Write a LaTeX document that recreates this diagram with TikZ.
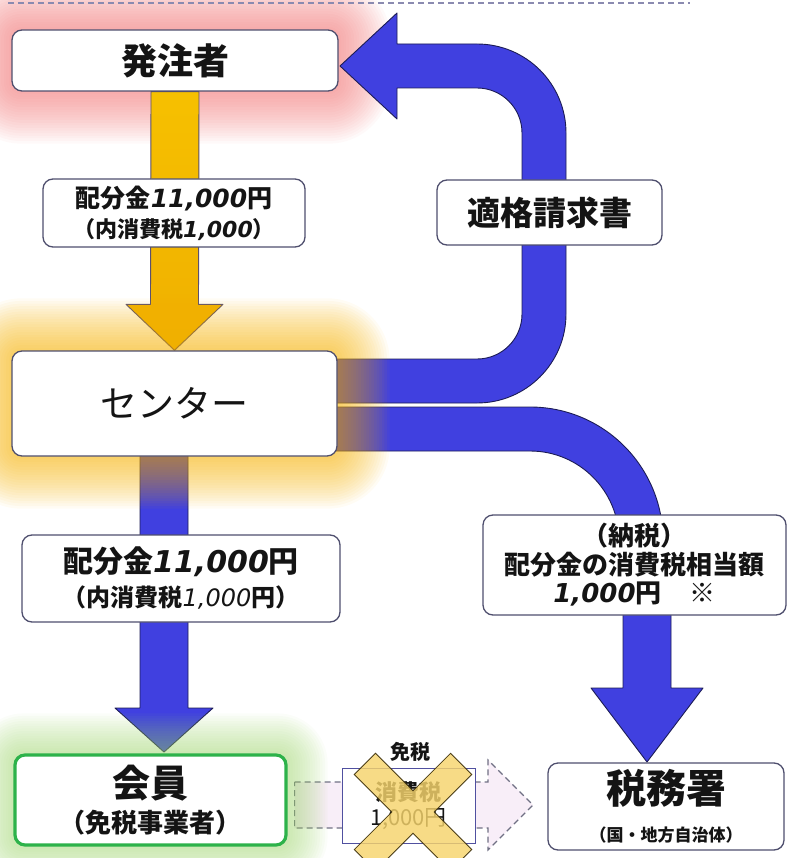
\documentclass[tikz,border=0pt]{standalone}
\usepackage{fontspec}
\setmainfont{Noto Sans CJK JP}
\newfontfamily\jpf{Noto Sans CJK JP}
\newfontfamily\dvs{DejaVu Sans}
\usetikzlibrary{calc}
\newcommand\dgt[1]{{\dvs\itshape #1}}
\definecolor{boxc}{HTML}{4F4F6E}
\definecolor{txt}{HTML}{141414}
\definecolor{arrblue}{HTML}{4040E0}
\definecolor{arredge}{HTML}{1C1C55}
\definecolor{goldA}{HTML}{F6C000}
\definecolor{goldM}{HTML}{A98B4E}
\definecolor{goldB}{HTML}{F0B000}
\definecolor{goldedge}{HTML}{5A5070}
\definecolor{glowred}{HTML}{F06A6A}
\definecolor{glowgold}{HTML}{F5B000}
\definecolor{glowgreen}{HTML}{9CD46A}
\definecolor{greenb}{HTML}{2DB24A}
\definecolor{pinkfill}{HTML}{F8EEF8}
\definecolor{dashc}{HTML}{707084}
\definecolor{midc}{HTML}{5050A0}
\definecolor{xfill}{HTML}{F6D46C}
\definecolor{xedge}{HTML}{4A3C14}
\definecolor{topdash}{HTML}{8A8AB0}
\pgfdeclarelayer{lyA}
\pgfdeclarelayer{lyB}
\pgfdeclarelayer{lyC}
\pgfsetlayers{lyA,lyB,lyC,main}
\begin{document}
\begin{tikzpicture}[x=1pt,y=1pt,
  box/.style={draw=boxc,line width=1.3pt,fill=white,rounded corners=10pt,inner sep=0pt,align=center,text=txt},
  bluearr/.style={fill=arrblue,draw=arredge,line width=0.9pt,line join=round},
  goldarr/.style={top color=goldA,middle color=goldM,bottom color=goldB,draw=goldedge,line width=0.9pt,line join=round},
  dasharr/.style={fill=pinkfill,draw=dashc,line width=1.2pt,dash pattern=on 6pt off 4pt}]
\useasboundingbox (0,0) rectangle (789,-858);

% ---------- top dashed rule ----------
\coordinate (tl) at (8,-3);
\coordinate (tr) at (690,-3);
\draw[topdash,line width=2pt,dash pattern=on 6pt off 4pt] (tl) -- (tr);

% ---------- boxes ----------
\node[box,minimum width=326pt,minimum height=61pt,font=\jpf\bfseries\fontsize{36}{40}\selectfont] (hachu) at (175,-60.5) {発注者};
\node[box,minimum width=262pt,minimum height=68pt,font=\jpf\bfseries\fontsize{22}{30}\selectfont] (lab1) at (174,-213) {{\fontsize{25}{30}\selectfont 配分金\dgt{11,000}円}\\（内消費税\dgt{1,000}）};
\node[box,minimum width=225pt,minimum height=65pt,font=\jpf\bfseries\fontsize{33}{40}\selectfont] (tekikaku) at (549.5,-212.5) {適格請求書};
\node[box,minimum width=325pt,minimum height=105pt,font=\jpf\fontsize{37}{40}\selectfont] (cent) at (174.5,-403.5) {センター};
\node[box,minimum width=318pt,minimum height=87pt,font=\jpf\bfseries\fontsize{24}{34}\selectfont] (lab2) at (181,-578.5) {{\fontsize{30}{34}\selectfont 配分金\dgt{11,000}円}\\（内消費税{\dvs\itshape\mdseries 1,000}円）};
\node[box,minimum width=303pt,minimum height=100pt,font=\jpf\bfseries\fontsize{26}{28.5}\selectfont] (nozei) at (634.5,-565) {（納税）\\配分金の消費税相当額\\\dgt{1,000}円\hspace{28pt}※};
\node[box,draw=greenb,line width=3.2pt,minimum width=271pt,minimum height=90pt,font=\jpf\bfseries\fontsize{26}{35}\selectfont] (kaiin) at (150.5,-800) {{\fontsize{38}{35}\selectfont 会員}\\（免税事業者）};
\node[box,minimum width=236pt,minimum height=87pt,font=\jpf\bfseries\fontsize{17}{38}\selectfont] (zeimu) at (666,-806.5) {{\fontsize{40}{38}\selectfont 税務署}\\（国・地方自治体）};
\node[draw=midc,line width=1pt,fill=white,minimum width=133pt,minimum height=75pt,inner sep=0pt,align=center,text=txt,font=\jpf\fontsize{22}{25}\selectfont] (mbox) at (408.5,-805.5) {{\bfseries 消費税}\\1,000円};

% ---------- crossed-out mark ----------
\filldraw[fill=xfill,fill opacity=0.82,draw=xedge,line width=0.8pt,line join=miter]
  (354.3,-774.5) -- (375.5,-753.3) -- (413,-790.8) -- (450.5,-753.3) -- (471.7,-774.5) -- (434.2,-812)
  -- (471.7,-849.5) -- (450.5,-870.7) -- (413,-833.2) -- (375.5,-870.7) -- (354.3,-849.5) -- (391.8,-812) -- cycle;
\node[font=\jpf\bfseries\fontsize{20}{24}\selectfont,inner sep=0pt,text=txt] (menzei) at (410,-752) {免税};

% ---------- named ends ----------
\coordinate (utip) at (340,-66);
\coordinate (rtip) at (647,-762);
\coordinate (ltip) at (164,-752);

% ---------- red glow (under arrows) ----------
\begin{pgfonlayer}{lyA}
\foreach \i in {1,...,20}{
  \pgfmathsetmacro\d{\i*2.6}
  \pgfmathsetmacro\r{10+\d}
  \fill[glowred,opacity=0.04,rounded corners=\r pt] ($(hachu.south west)+(-\d,-\d)$) rectangle ($(hachu.north east)+(\d,\d)$);
}
\end{pgfonlayer}

% ---------- arrows ----------
\begin{pgfonlayer}{lyB}
% gold: hachu -> cent
\shadedraw[goldarr] ($(hachu.south)+(-24,0)$) -- ($(cent.north)+(-24,46)$) -- ($(cent.north)+(-48.5,46)$) -- (cent.north)
  -- ($(cent.north)+(48.5,46)$) -- ($(cent.north)+(24,46)$) -- ($(hachu.south)+(24,0)$) -- cycle;
% blue U-turn: cent -> hachu
\filldraw[bluearr] (330,-359) -- (477,-359) arc[start angle=-90,end angle=0,radius=45] -- (522,-133)
  arc[start angle=0,end angle=90,radius=45] -- (397,-88) -- (397,-119) -- (utip) -- (397,-13) -- (397,-44)
  -- (477,-44) arc[start angle=90,end angle=0,radius=89] -- (566,-314) arc[start angle=0,end angle=-90,radius=89]
  -- (330,-403) -- cycle;
% blue: cent -> nozei (curve)
\filldraw[bluearr] (330,-407) -- (530,-407) arc[start angle=90,end angle=0,radius=133] -- (619,-540)
  arc[start angle=0,end angle=90,radius=89] -- (330,-451) -- cycle;
% blue: nozei -> zeimu
\filldraw[bluearr] (623,-600) -- (623,-688) -- (591,-688) -- (rtip) -- (703,-688) -- (671,-688) -- (671,-600) -- cycle;
% blue: cent -> kaiin
\filldraw[bluearr] (140,-450) -- (140,-708) -- (115,-708) -- (ltip) -- (213,-708) -- (188,-708) -- (188,-450) -- cycle;
% dashed: kaiin -> zeimu
\filldraw[dasharr] ($(kaiin.east)+(7,18)$) -- (488,-782) -- (488,-760) -- (533,-805) -- (488,-850) -- (488,-828)
  -- ($(kaiin.east)+(7,-28)$) -- cycle;
\end{pgfonlayer}

% ---------- gold and green glows (over arrows) ----------
\begin{pgfonlayer}{lyC}
\foreach \i in {1,...,20}{
  \pgfmathsetmacro\d{\i*2.6}
  \pgfmathsetmacro\r{10+\d}
  \fill[glowgold,opacity=0.045,rounded corners=\r pt] ($(cent.south west)+(-\d,-\d)$) rectangle ($(cent.north east)+(\d,\d)$);
}
\foreach \i in {1,...,16}{
  \pgfmathsetmacro\d{\i*2.5}
  \pgfmathsetmacro\r{10+\d}
  \fill[glowgreen,opacity=0.045,rounded corners=\r pt] ($(kaiin.south west)+(-\d,-\d)$) rectangle ($(kaiin.north east)+(\d,\d)$);
}
\end{pgfonlayer}
\end{tikzpicture}
\end{document}
